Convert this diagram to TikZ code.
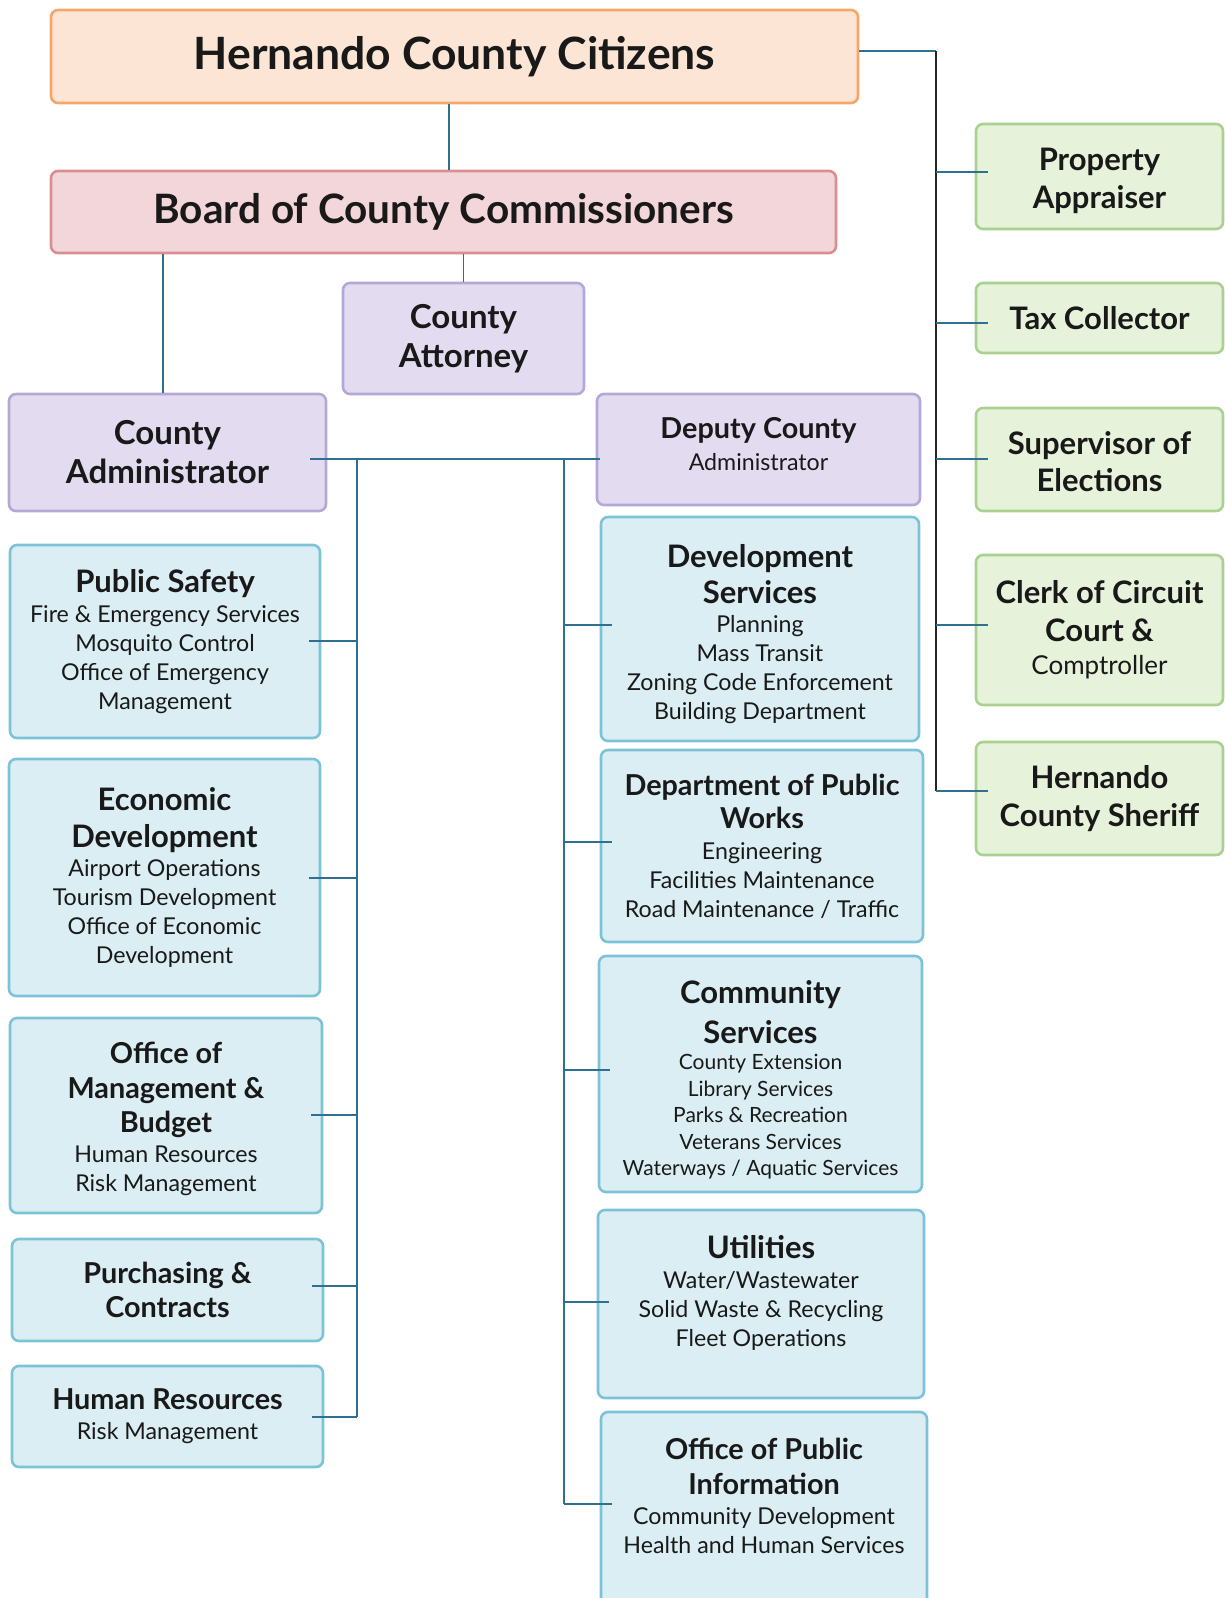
\documentclass[tikz,border=0pt]{standalone}
\usepackage{fontspec}
\setmainfont{Lato}
\usetikzlibrary{calc}

\definecolor{citF}{HTML}{FCE5D5}
\definecolor{citD}{HTML}{F4A66B}
\definecolor{brdF}{HTML}{F2D6D9}
\definecolor{brdD}{HTML}{D98E94}
\definecolor{purF}{HTML}{E3DCF0}
\definecolor{purD}{HTML}{B5A8D7}
\definecolor{bluF}{HTML}{DAEEF4}
\definecolor{bluD}{HTML}{7CC3D8}
\definecolor{grnF}{HTML}{E6F2D9}
\definecolor{grnD}{HTML}{AAD18F}
\definecolor{wire}{HTML}{2F6F8F}

% type sizes (1pt = 1px)
\newcommand\hdXL{\fontsize{44.5}{50}\selectfont\bfseries}
\newcommand\hdB{\fontsize{40.5}{46}\selectfont\bfseries}
\newcommand\hdL{\fontsize{33}{39}\selectfont\bfseries}
\newcommand\hdM{\fontsize{31}{37}\selectfont\bfseries}
\newcommand\hdS{\fontsize{28.8}{34}\selectfont\bfseries}
\newcommand\sbM{\fontsize{23.2}{29}\selectfont}
\newcommand\sbS{\fontsize{21}{26.5}\selectfont}
\newcommand\sbC{\fontsize{26}{30}\selectfont}

\tikzset{
  orgbox/.style={draw, line width=2.6pt, rounded corners=7pt, align=center, inner sep=0pt, text=black!90},
  citbox/.style={orgbox, draw=citD, fill=citF},
  brdbox/.style={orgbox, draw=brdD, fill=brdF},
  purbox/.style={orgbox, draw=purD, fill=purF},
  blubox/.style={orgbox, draw=bluD, fill=bluF},
  grnbox/.style={orgbox, draw=grnD, fill=grnF},
  boxtext/.style={align=center, inner sep=0pt, text=black!90},
  wire/.style={draw=wire, line width=1.6pt},
  spine/.style={draw=black!85, line width=1.6pt},
  sz/.style n args={2}{minimum width=#1pt, minimum height=#2pt}
}

\begin{document}
\begin{tikzpicture}[x=1pt, y=-1pt]
\useasboundingbox (0,0) rectangle (1225,1598);
\clip (0,0) rectangle (1225,1598);

% ---- top levels
\node[citbox, sz={807}{93}, font=\hdXL] (cit) at (454.5,56.5) {Hernando County Citizens};
\node[brdbox, sz={785}{82}, font=\hdB] (brd) at (443.5,212) {Board of County Commissioners};
\node[purbox, sz={241}{111}, font=\hdL] (atty) at (463.5,338.5) {County\\Attorney};
\node[purbox, sz={317}{117}, font=\hdL] (cadm) at (167.5,452.5) {County\\Administrator};
\node[purbox, sz={323}{111}] (dep) at (758.5,449.5) {};
\node[boxtext, font=\sbM] (dep-t) at (758.5,444) {\hdS Deputy County\\[2.6pt] Administrator};

% ---- departments under the County Administrator
\node[blubox, sz={310}{193}, font=\sbM] (ps) at (165,641.5)
  {\hdM Public Safety\\[1.1pt] Fire \& Emergency Services\\Mosquito Control\\Office of Emergency\\Management};
\node[blubox, sz={311}{237}, font=\sbM] (ed) at (164.5,877.5)
  {\hdM Economic\\[8.7pt]\hdM Development\\[0.1pt] Airport Operations\\Tourism Development\\Office of Economic\\Development};
\node[blubox, sz={312}{195}] (omb) at (166,1115.5) {};
\node[boxtext, font=\sbM] (omb-t) at (166,1119)
  {\hdS Office of\\[5.6pt]\hdS Management \&\\[4.6pt]\hdS Budget\\[1.1pt] Human Resources\\Risk Management};
\node[blubox, sz={311}{102}, font=\hdS] (pc) at (167.5,1290) {Purchasing \&\\[0.6pt]Contracts};
\node[blubox, sz={311}{101}, font=\sbM] (hr) at (167.5,1416.5) {\hdS Human Resources\\[1pt] Risk Management};

% ---- departments under the Deputy County Administrator
\node[blubox, sz={318}{224}] (ds) at (760,629) {};
\node[boxtext, font=\sbM] (ds-t) at (760,634)
  {\hdM Development\\[7.7pt]\hdM Services\\[-0.4pt] Planning\\Mass Transit\\Zoning Code Enforcement\\Building Department};
\node[blubox, sz={322}{192}, font=\sbM] (pw) at (762,846)
  {\hdS Department of Public\\[4.6pt]\hdS Works\\[1.1pt] Engineering\\Facilities Maintenance\\Road Maintenance / Traffic};
\node[blubox, sz={323}{236}] (cs) at (760.5,1074) {};
\node[boxtext, font=\sbS] (cs-t) at (760.5,1080)
  {\hdM Community\\[10.2pt]\hdM Services\\[0pt] County Extension\\Library Services\\Parks \& Recreation\\Veterans Services\\Waterways / Aquatic Services};
\node[blubox, sz={326}{188}] (ut) at (761,1304) {};
\node[boxtext, font=\sbM] (ut-t) at (761,1293)
  {\hdM Utilities\\[1.1pt] Water/Wastewater\\Solid Waste \& Recycling\\Fleet Operations};
\node[blubox, sz={326}{200}] (opi) at (764,1512) {};
\node[boxtext, font=\sbM] (opi-t) at (764,1496)
  {\hdS Office of Public\\[5.6pt]\hdS Information\\[1.1pt] Community Development\\Health and Human Services};

% ---- independently elected officers
\node[grnbox, sz={247}{105}] (pa) at (1099.5,176.5) {};
\node[boxtext, font=\hdM] (pa-t) at (1099.5,181) {Property\\[0.7pt]Appraiser};
\node[grnbox, sz={247}{70}, font=\hdM] (tc) at (1099.5,318) {Tax Collector};
\node[grnbox, sz={247}{103}] (se) at (1099.5,459.5) {};
\node[boxtext, font=\hdM] (se-t) at (1099.5,462) {Supervisor of\\Elections};
\node[grnbox, sz={247}{150}, font=\sbC] (cl) at (1099.5,630)
  {\hdM Clerk of Circuit\\[7.7pt]\hdM Court \&\\[3.6pt] Comptroller};
\node[grnbox, sz={247}{113}, font=\hdM] (sh) at (1099.5,798.5) {Hernando\\[0.7pt]County Sheriff};

% ---- connector rails
\coordinate (drop) at (449,0);
\coordinate (rail) at (936,51);
\coordinate (busL) at (357,459);
\coordinate (busR) at (564,459);
\coordinate (cadmDrop) at (163,0);

% citizens -> board
\draw[wire] (cit.south -| drop) -- (brd.north -| drop);
% board -> attorney, administrator
\draw[wire] (brd.south -| atty.north) -- (atty.north);
\draw[wire] (brd.south -| cadmDrop) -- (cadm.north -| cadmDrop);

% citizens -> elected officers
\draw[wire] (cit.east |- rail) -- (rail);
\draw[spine] (rail) -- (rail |- 0,791);
\foreach \n/\yy in {pa/172, tc/323, se/459, cl/625, sh/791}
  \draw[wire] (rail |- 0,\yy) -- ([xshift=13pt]\n.west |- 0,\yy);

% administrator -> deputy
\draw[wire] ([xshift=-17pt]cadm.east |- busL) -- ([xshift=4pt]dep.west |- busL);

% administrator rail
\draw[wire] (busL) -- (busL |- 0,1417);
\foreach \n/\yy in {ps/641, ed/878, omb/1115, pc/1286, hr/1417}
  \draw[wire] ([xshift=-12pt]\n.east |- 0,\yy) -- (busL |- 0,\yy);

% deputy rail
\draw[wire] (busR) -- (busR |- 0,1504);
\foreach \n/\yy in {ds/625, pw/842, cs/1070, ut/1302, opi/1504}
  \draw[wire] (busR |- 0,\yy) -- ([xshift=12pt]\n.west |- 0,\yy);
\end{tikzpicture}
\end{document}
